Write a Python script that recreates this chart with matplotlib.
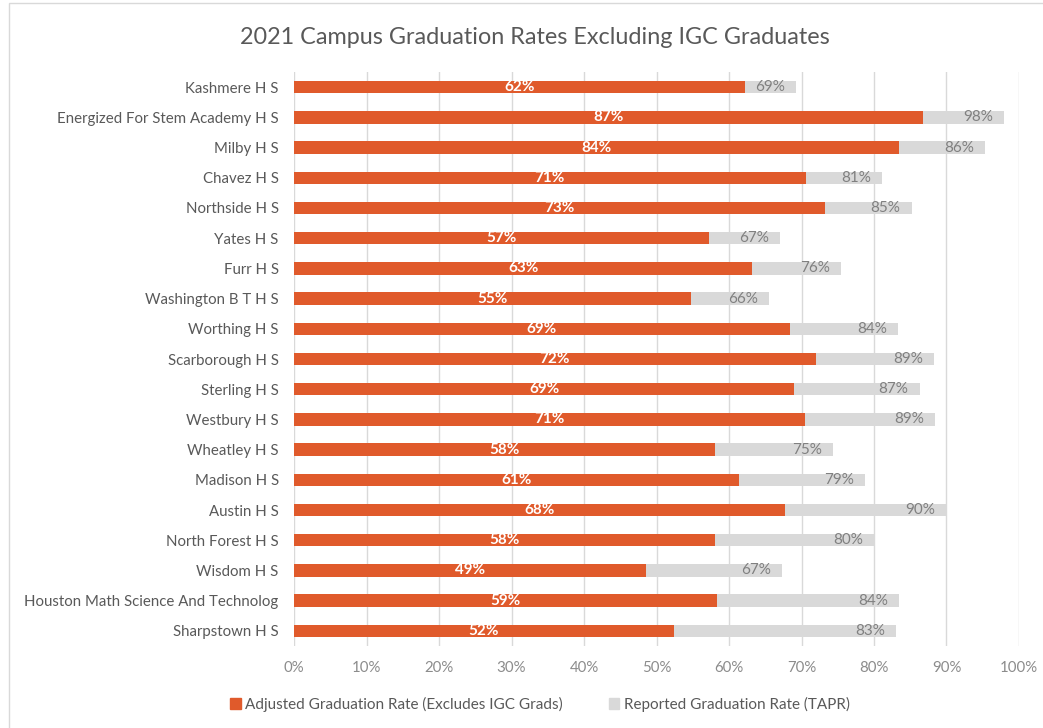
import matplotlib
matplotlib.use("Agg")
import matplotlib.pyplot as plt
from matplotlib.patches import Rectangle, Patch
from matplotlib.ticker import FuncFormatter, MultipleLocator

schools = ["Kashmere H S", "Energized For Stem Academy H S", "Milby H S", "Chavez H S",
           "Northside H S", "Yates H S", "Furr H S", "Washington B T H S", "Worthing H S",
           "Scarborough H S", "Sterling H S", "Westbury H S", "Wheatley H S", "Madison H S",
           "Austin H S", "North Forest H S", "Wisdom H S",
           "Houston Math Science And Technolog", "Sharpstown H S"]
adjusted = [62.2, 86.7, 83.4, 70.6, 73.3, 57.2, 63.2, 54.7, 68.4, 72.0,
            69.0, 70.5, 58.1, 61.4, 67.7, 58.1, 48.6, 58.4, 52.4]
adjusted_labels = ["62%", "87%", "84%", "71%", "73%", "57%", "63%", "55%", "69%", "72%",
                   "69%", "71%", "58%", "61%", "68%", "58%", "49%", "59%", "52%"]
reported = [69.2, 97.9, 95.3, 81.1, 85.2, 67.0, 75.5, 65.5, 83.3, 88.3,
            86.3, 88.4, 74.4, 78.8, 89.9, 80.1, 67.3, 83.5, 83.1]
reported_labels = ["69%", "98%", "86%", "81%", "85%", "67%", "76%", "66%", "84%", "89%",
                   "87%", "89%", "75%", "79%", "90%", "80%", "67%", "84%", "83%"]
series_names = ["Adjusted Graduation Rate (Excludes IGC Grads)", "Reported Graduation Rate (TAPR)"]
title = "2021 Campus Graduation Rates Excluding IGC Graduates"

ORANGE = "#E05A2B"
GREY = "#D9D9D9"
plt.rcParams['font.family'] = ['Lato', 'DejaVu Sans']

W, H = 1043, 728
fig = plt.figure(figsize=(W / 100, H / 100), dpi=100)
fig.patches.append(Rectangle((9 / W, -0.1), 1.2, 1.1 - 3 / H, transform=fig.transFigure,
                             fill=False, edgecolor="#D9D9D9", linewidth=1.0))

ax = fig.add_axes([294 / W, 1 - 646 / H, 725 / W, (646 - 72) / H])
y = list(range(len(schools)))
bh = 0.41
ax.barh(y, reported, height=bh, color=GREY, zorder=2)
bars = ax.barh(y, adjusted, height=bh, color=ORANGE, zorder=3)
ax.bar_label(bars, labels=adjusted_labels, label_type='center', color='white',
             fontweight='bold', fontsize=11, zorder=4)
for yi, v, lab in zip(y, reported, reported_labels):
    ax.annotate(lab, xy=(v, yi), xytext=(-8, 0), textcoords='offset points',
                ha='right', va='center', color='#808080', fontsize=11, zorder=4)

ax.set_xlim(0, 100)
ax.set_ylim(len(schools) - 0.5, -0.5)
ax.set_yticks(y)
ax.set_yticklabels(schools)
ax.xaxis.set_major_locator(MultipleLocator(10))
ax.xaxis.set_major_formatter(FuncFormatter(lambda v, p: f"{v:.0f}%"))
ax.grid(axis='x', color='#D9D9D9', linewidth=1.0, zorder=0)
ax.set_axisbelow(True)
for s in ax.spines.values():
    s.set_visible(False)
ax.tick_params(axis='y', length=0, pad=11, labelsize=10.8, labelcolor='#595959')
ax.tick_params(axis='x', length=0, pad=11, labelsize=10.8, labelcolor='#8C8C8C')

fig.text(535 / W, 1 - 37 / H, title, ha='center', va='center', fontsize=16.8, color='#595959')

handles = [Patch(color=ORANGE), Patch(color=GREY)]
fig.legend(handles, series_names, loc='center', bbox_to_anchor=(540 / W, 1 - 704 / H),
           ncol=2, frameon=False, fontsize=11, labelcolor='#595959',
           handlelength=0.7, handleheight=0.7, handletextpad=0.3, columnspacing=3.0)

fig.savefig("out.png", dpi=100)
